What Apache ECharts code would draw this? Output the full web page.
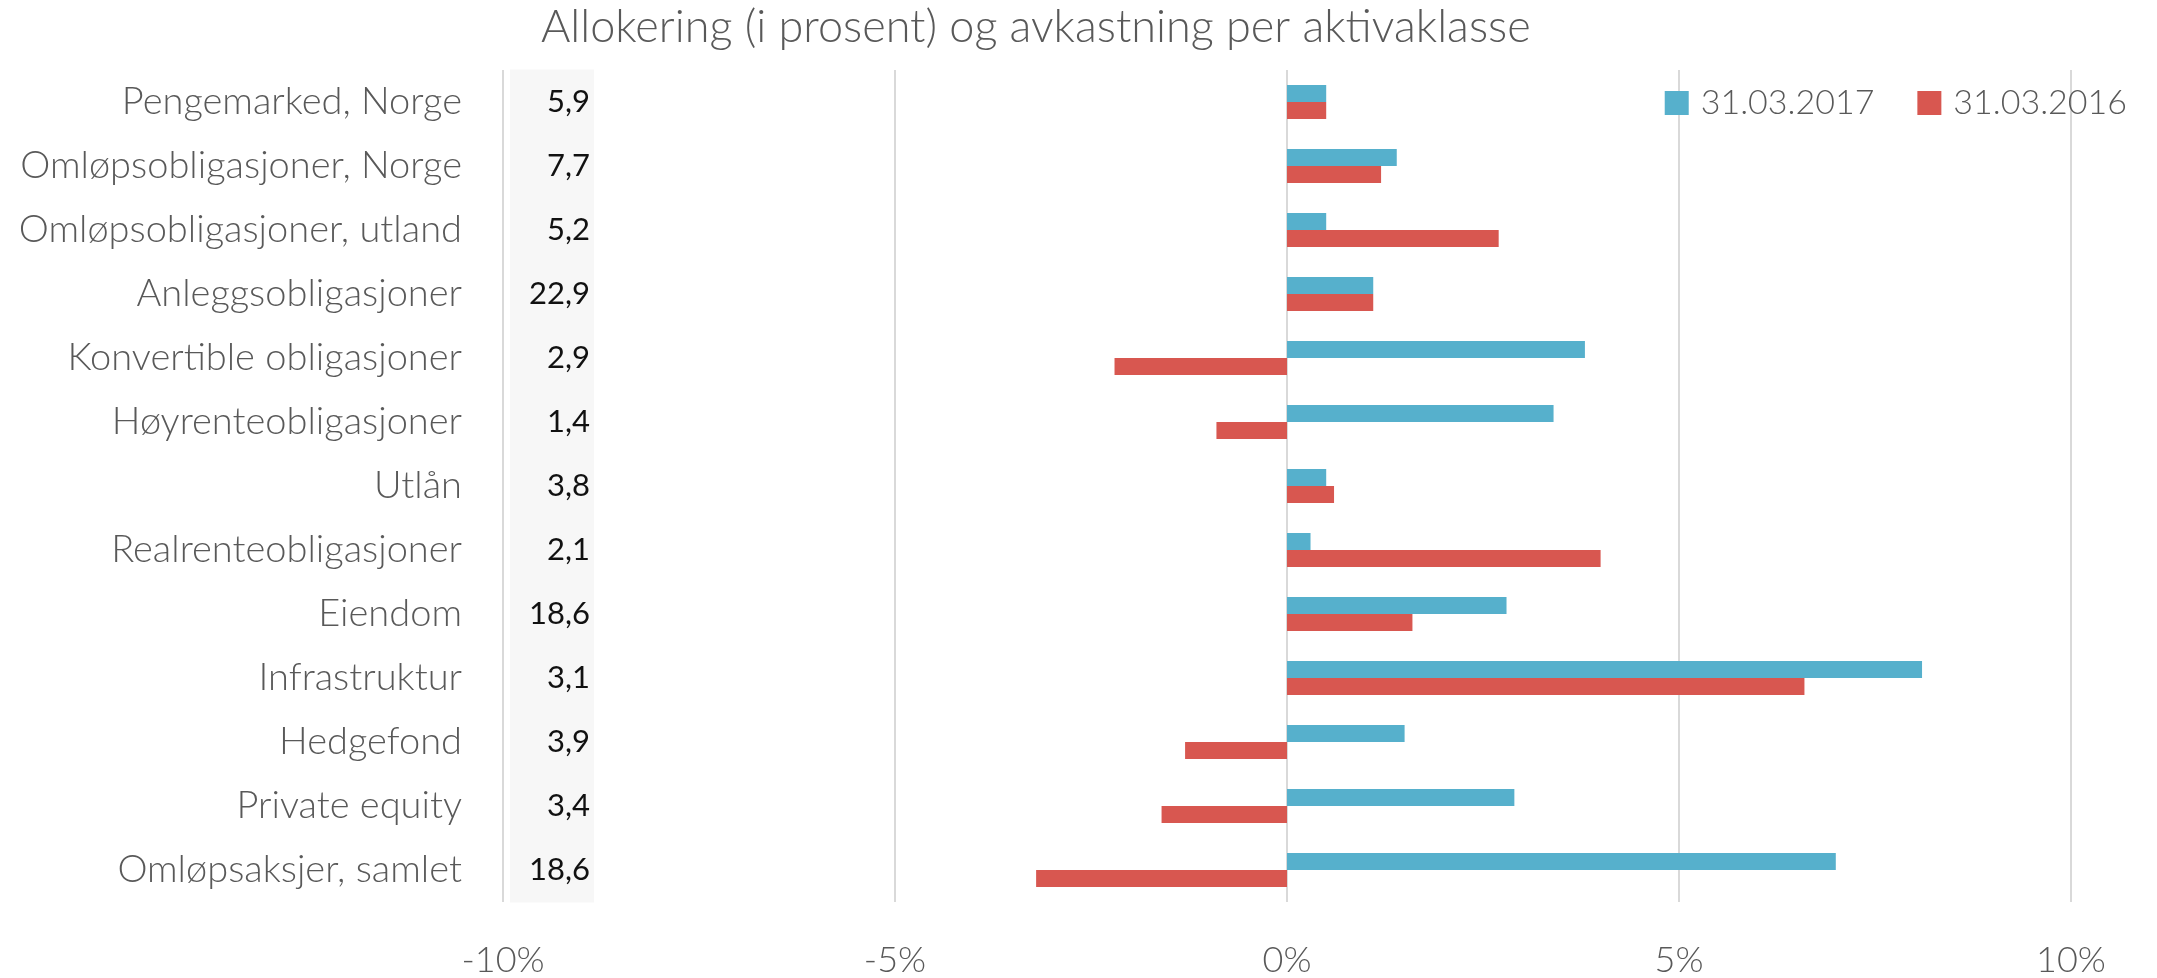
<!DOCTYPE html>
<html>
<head>
<meta charset="utf-8">
<script src="https://cdn.jsdelivr.net/npm/echarts@6/dist/echarts.min.js"></script>
<style>
  html, body { margin: 0; padding: 0; background: #fff; }
  #chart { width: 2157px; height: 978px; }
</style>
</head>
<body>
<div id="chart"></div>
<script>
const categories = [
  'Pengemarked, Norge', 'Omløpsobligasjoner, Norge', 'Omløpsobligasjoner, utland', 'Anleggsobligasjoner',
  'Konvertible obligasjoner', 'Høyrenteobligasjoner', 'Utlån', 'Realrenteobligasjoner', 'Eiendom',
  'Infrastruktur', 'Hedgefond', 'Private equity', 'Omløpsaksjer, samlet',
];
// allokering i prosent
const allocation = [5.9, 7.7, 5.2, 22.9, 2.9, 1.4, 3.8, 2.1, 18.6, 3.1, 3.9, 3.4, 18.6];
// avkastning i prosent
const return2017 = [0.5, 1.4, 0.5, 1.1, 3.8, 3.4, 0.5, 0.3, 2.8, 8.1, 1.5, 2.9, 7.0];
const return2016 = [0.5, 1.2, 2.7, 1.1, -2.2, -0.9, 0.6, 4.0, 1.6, 6.6, -1.3, -1.6, -3.2];
const seriesNames = ['31.03.2017', '31.03.2016'];

const font = 'Lato, "Noto Sans", sans-serif';
const grey = '#595959';

const chart = echarts.init(document.getElementById('chart'));
chart.setOption({
  animation: false,
  textStyle: { fontFamily: font },
  title: {
    text: 'Allokering (i prosent) og avkastning per aktivaklasse',
    left: 541,
    top: 5,
    padding: 0,
    textStyle: { fontFamily: font, fontSize: 45, fontWeight: 300, color: grey },
  },
  legend: {
    right: 30,
    top: 86,
    padding: 0,
    itemWidth: 24,
    itemHeight: 24,
    itemGap: 43,
    icon: 'rect',
    textStyle: { fontFamily: font, fontSize: 34, fontWeight: 300, color: grey, padding: [0, 0, 0, 7] },
    data: seriesNames,
  },
  grid: { left: 503, right: 86, top: 70, bottom: 71 },
  xAxis: {
    type: 'value',
    min: -10,
    max: 10,
    interval: 5,
    axisLine: { show: false },
    axisTick: { show: false },
    splitLine: { show: true, lineStyle: { color: '#d9d9d9', width: 2 } },
    axisLabel: { margin: 40, fontSize: 36, fontWeight: 300, color: grey, formatter: '{value}%' },
  },
  yAxis: [
    {
      type: 'category',
      inverse: true,
      data: categories,
      axisLine: { show: false },
      axisTick: { show: false },
      axisLabel: { interval: 0, margin: 41, fontSize: 38, fontWeight: 300, color: grey },
    },
    {
      type: 'category',
      position: 'left',
      inverse: true,
      data: allocation.map((v) => v.toFixed(1).replace('.', ',')),
      axisLine: { show: false },
      axisTick: { show: false },
      axisLabel: {
        interval: 0,
        inside: true,
        margin: 7,
        formatter: (v) => `{a|${v}}`,
        rich: {
          a: {
            width: 80,
            height: 65,
            lineHeight: 65,
            align: 'right',
            padding: [0, 4, 0, 0],
            backgroundColor: '#f7f7f7',
            fontFamily: font,
            fontSize: 31,
            color: '#111',
          },
        },
      },
    },
  ],
  series: [
    {
      name: seriesNames[0],
      type: 'bar',
      yAxisIndex: 0,
      barWidth: 17,
      barGap: '0%',
      itemStyle: { color: '#56b0cc' },
      data: return2017,
    },
    {
      name: seriesNames[1],
      type: 'bar',
      yAxisIndex: 0,
      barWidth: 17,
      barGap: '0%',
      itemStyle: { color: '#d85750' },
      data: return2016,
    },
  ],
});
</script>
</body>
</html>
